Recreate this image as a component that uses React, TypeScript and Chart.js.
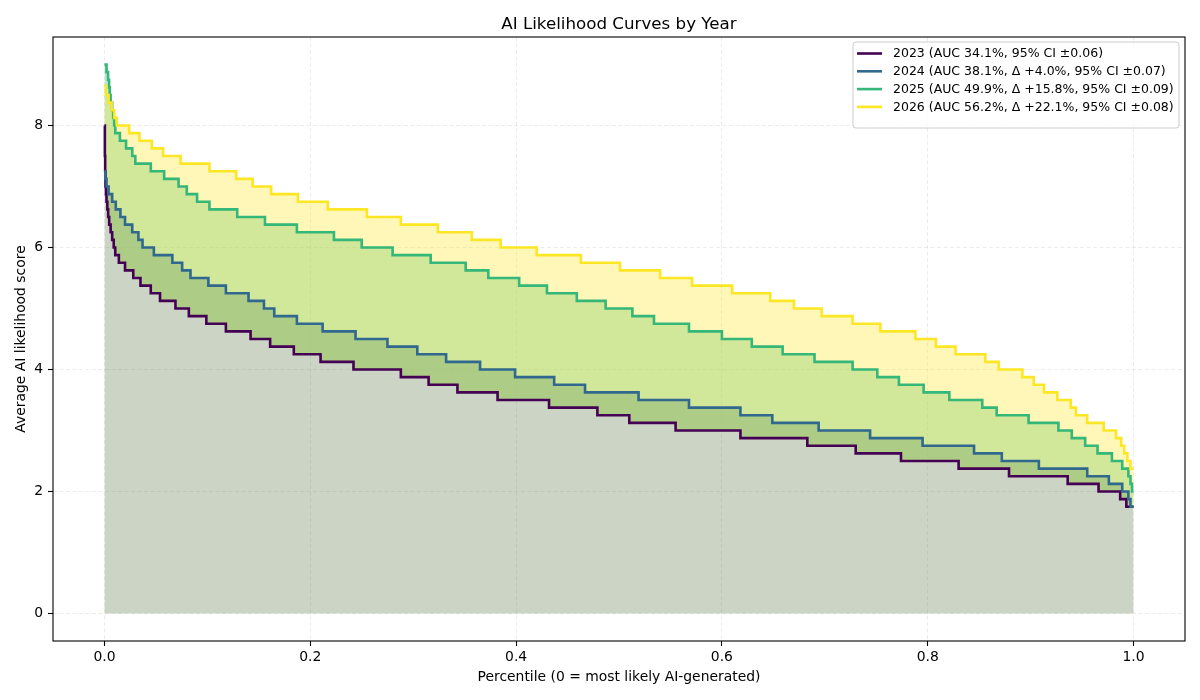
import React, { useEffect, useRef } from 'react';
import { Chart, registerables } from 'chart.js';

Chart.register(...registerables);

const FONT = "'DejaVu Sans', 'Liberation Sans', sans-serif";

const TITLE = 'AI Likelihood Curves by Year';
const X_LABEL = 'Percentile (0 = most likely AI-generated)';
const Y_LABEL = 'Average AI likelihood score';

const SERIES_LABELS = [
  '2023 (AUC 34.1%, 95% CI ±0.06)',
  '2024 (AUC 38.1%, Δ +4.0%, 95% CI ±0.07)',
  '2025 (AUC 49.9%, Δ +15.8%, 95% CI ±0.09)',
  '2026 (AUC 56.2%, Δ +22.1%, 95% CI ±0.08)',
];

const LINE_COLORS = ['#440154', '#31688e', '#35b779', '#fde725'];
const FILL_COLORS = [
  'rgba(85,112,65,0.3)',
  'rgba(49,104,142,0.38)',
  'rgba(53,183,121,0.33)',
  'rgba(253,231,37,0.33)',
];

const X_TICKS = [0, 0.2, 0.4, 0.6, 0.8, 1.0];
const Y_TICKS = [0, 2, 4, 6, 8];

// step start positions (percentile) and the value held from there on
const X_2023 = [0, 0.0004, 0.0007, 0.001, 0.0015, 0.002, 0.0028, 0.0036, 0.0046, 0.006, 0.0075, 0.009, 0.0105, 0.014, 0.02, 0.028, 0.035, 0.045, 0.054, 0.069, 0.082, 0.099, 0.118, 0.142, 0.161, 0.184, 0.21, 0.242, 0.288, 0.315, 0.343, 0.382, 0.432, 0.479, 0.51, 0.555, 0.618, 0.683, 0.73, 0.774, 0.83, 0.879, 0.936, 0.966, 0.987, 0.993, 1.0];
const Y_2023 = [8.0, 7.5, 7.25, 7.0, 6.875, 6.75, 6.625, 6.5, 6.375, 6.25, 6.125, 6.0, 5.875, 5.75, 5.625, 5.5, 5.375, 5.25, 5.125, 5.0, 4.875, 4.75, 4.625, 4.5, 4.375, 4.25, 4.125, 4.0, 3.875, 3.75, 3.625, 3.5, 3.375, 3.25, 3.125, 3.0, 2.875, 2.75, 2.625, 2.5, 2.375, 2.25, 2.125, 2.0, 1.875, 1.75, 1.75];

const X_2024 = [0, 0.0008, 0.002, 0.004, 0.0075, 0.011, 0.0155, 0.02, 0.027, 0.033, 0.037, 0.048, 0.066, 0.0755, 0.0836, 0.101, 0.118, 0.14, 0.155, 0.165, 0.187, 0.212, 0.244, 0.275, 0.304, 0.332, 0.365, 0.399, 0.437, 0.467, 0.519, 0.568, 0.618, 0.649, 0.694, 0.744, 0.795, 0.845, 0.872, 0.908, 0.955, 0.976, 0.989, 0.995, 0.997, 1.0];
const Y_2024 = [7.25, 7.125, 7.0, 6.875, 6.75, 6.625, 6.5, 6.375, 6.25, 6.125, 6.0, 5.875, 5.75, 5.625, 5.5, 5.375, 5.25, 5.125, 5.0, 4.875, 4.75, 4.625, 4.5, 4.375, 4.25, 4.125, 4.0, 3.875, 3.75, 3.625, 3.5, 3.375, 3.25, 3.125, 3.0, 2.875, 2.75, 2.625, 2.5, 2.375, 2.25, 2.125, 2.0, 1.875, 1.75, 1.75];

const X_2025 = [0, 0.002, 0.0035, 0.0045, 0.0052, 0.006, 0.0075, 0.0085, 0.0095, 0.0105, 0.015, 0.021, 0.027, 0.03, 0.045, 0.058, 0.072, 0.08, 0.09, 0.102, 0.129, 0.156, 0.187, 0.223, 0.25, 0.28, 0.317, 0.351, 0.373, 0.403, 0.43, 0.459, 0.487, 0.513, 0.534, 0.568, 0.6, 0.629, 0.659, 0.69, 0.727, 0.751, 0.772, 0.796, 0.821, 0.853, 0.867, 0.898, 0.927, 0.94, 0.953, 0.965, 0.979, 0.989, 0.995, 0.997, 0.9985, 1.0];
const Y_2025 = [9.0, 8.875, 8.75, 8.625, 8.5, 8.375, 8.25, 8.125, 8.0, 7.875, 7.75, 7.625, 7.5, 7.375, 7.25, 7.125, 7.0, 6.875, 6.75, 6.625, 6.5, 6.375, 6.25, 6.125, 6.0, 5.875, 5.75, 5.625, 5.5, 5.375, 5.25, 5.125, 5.0, 4.875, 4.75, 4.625, 4.5, 4.375, 4.25, 4.125, 4.0, 3.875, 3.75, 3.625, 3.5, 3.375, 3.25, 3.125, 3.0, 2.875, 2.75, 2.625, 2.5, 2.375, 2.25, 2.125, 2.0, 2.0];

const X_2026 = [0, 0.0015, 0.004, 0.007, 0.0095, 0.012, 0.024, 0.034, 0.046, 0.057, 0.074, 0.102, 0.128, 0.144, 0.162, 0.188, 0.217, 0.255, 0.288, 0.324, 0.357, 0.385, 0.42, 0.463, 0.501, 0.54, 0.571, 0.61, 0.647, 0.67, 0.697, 0.727, 0.754, 0.788, 0.808, 0.827, 0.856, 0.869, 0.892, 0.903, 0.913, 0.926, 0.939, 0.944, 0.955, 0.971, 0.983, 0.988, 0.991, 0.994, 0.997, 1.0];
const Y_2026 = [8.65, 8.5, 8.375, 8.25, 8.125, 8.0, 7.875, 7.75, 7.625, 7.5, 7.375, 7.25, 7.125, 7.0, 6.875, 6.75, 6.625, 6.5, 6.375, 6.25, 6.125, 6.0, 5.875, 5.75, 5.625, 5.5, 5.375, 5.25, 5.125, 5.0, 4.875, 4.75, 4.625, 4.5, 4.375, 4.25, 4.125, 4.0, 3.875, 3.75, 3.625, 3.5, 3.375, 3.25, 3.125, 3.0, 2.875, 2.75, 2.625, 2.5, 2.375, 2.375];

const SERIES_X = [X_2023, X_2024, X_2025, X_2026];
const SERIES_Y = [Y_2023, Y_2024, Y_2025, Y_2026];

function toPoints(xs: number[], ys: number[]) {
  return xs.map((x, i) => ({ x, y: ys[i] }));
}

const decorPlugin = {
  id: 'mplDecor',
  afterDraw(chart: any) {
    const { ctx, chartArea: a } = chart;
    ctx.save();
    // axes frame
    ctx.strokeStyle = '#000';
    ctx.lineWidth = 1.1;
    ctx.setLineDash([]);
    ctx.strokeRect(a.left, a.top, a.right - a.left, a.bottom - a.top);

    ctx.fillStyle = '#000';
    // title
    ctx.font = `16.7px ${FONT}`;
    ctx.textAlign = 'center';
    ctx.textBaseline = 'alphabetic';
    ctx.fillText(TITLE, (a.left + a.right) / 2, a.top - 8.5);

    // axis labels
    ctx.font = `13.9px ${FONT}`;
    ctx.textBaseline = 'middle';
    ctx.fillText(X_LABEL, (a.left + a.right) / 2, 677);
    ctx.save();
    ctx.translate(21, (a.top + a.bottom) / 2);
    ctx.rotate(-Math.PI / 2);
    ctx.fillText(Y_LABEL, 0, 0);
    ctx.restore();

    // legend
    const bx = 853, by = 42, bw = 326, bh = 86, r = 3;
    ctx.beginPath();
    ctx.moveTo(bx + r, by);
    ctx.lineTo(bx + bw - r, by);
    ctx.quadraticCurveTo(bx + bw, by, bx + bw, by + r);
    ctx.lineTo(bx + bw, by + bh - r);
    ctx.quadraticCurveTo(bx + bw, by + bh, bx + bw - r, by + bh);
    ctx.lineTo(bx + r, by + bh);
    ctx.quadraticCurveTo(bx, by + bh, bx, by + bh - r);
    ctx.lineTo(bx, by + r);
    ctx.quadraticCurveTo(bx, by, bx + r, by);
    ctx.closePath();
    ctx.fillStyle = 'rgba(255,255,255,0.8)';
    ctx.fill();
    ctx.strokeStyle = '#cccccc';
    ctx.lineWidth = 1;
    ctx.stroke();

    ctx.font = `12.5px ${FONT}`;
    ctx.textAlign = 'left';
    ctx.textBaseline = 'middle';
    SERIES_LABELS.forEach((label, i) => {
      const y = 53.5 + i * 17.8;
      ctx.strokeStyle = LINE_COLORS[i];
      ctx.lineWidth = 2.6;
      ctx.beginPath();
      ctx.moveTo(857, y);
      ctx.lineTo(882, y);
      ctx.stroke();
      ctx.fillStyle = '#000';
      ctx.fillText(label, 893, y + 0.5);
    });
    ctx.restore();
  },
};

export default function App() {
  const canvasRef = useRef<HTMLCanvasElement | null>(null);

  useEffect(() => {
    const canvas = canvasRef.current;
    if (!canvas) return;

    // Datasets listed newest first, so Chart.js (which paints the last dataset first)
    // paints 2023 at the bottom and 2026 on top, as in the reference.
    const order = [3, 2, 1, 0];
    const baseIndex = order.indexOf(0);
    const datasets = order.map((s) => ({
      label: SERIES_LABELS[s],
      data: toPoints(SERIES_X[s], SERIES_Y[s]),
      borderColor: LINE_COLORS[s],
      backgroundColor: FILL_COLORS[s],
      borderWidth: 2.6,
      pointRadius: 0,
      pointHoverRadius: 0,
      stepped: true as const,
      tension: 0,
      fill: s === 0 ? 'origin' : { target: baseIndex },
    }));

    const gridCommon = {
      color: 'rgba(176,176,176,0.3)',
      lineWidth: 0.8,
      tickLength: 5,
      tickColor: '#000',
      tickWidth: 1.1,
      drawTicks: true,
      drawOnChartArea: true,
    };

    const chart = new Chart(canvas, {
      type: 'line',
      data: { datasets: datasets as any },
      options: {
        responsive: false,
        animation: false,
        devicePixelRatio: 1,
        layout: { padding: { top: 37, right: 15, left: 0, bottom: 0 } },
        plugins: {
          legend: { display: false },
          title: { display: false },
          tooltip: { enabled: false },
          filler: { drawTime: 'beforeDatasetsDraw' },
        } as any,
        scales: {
          x: {
            type: 'linear',
            min: -0.05,
            max: 1.05,
            afterBuildTicks: (scale: any) => {
              scale.ticks = X_TICKS.map((v) => ({ value: v }));
            },
            afterFit: (scale: any) => {
              scale.height = 59;
            },
            grid: gridCommon,
            border: { display: false, dash: [4, 2.5] },
            ticks: {
              color: '#000',
              font: { family: FONT, size: 13.9 },
              padding: 3,
              maxRotation: 0,
              autoSkip: false,
              callback: (v: any) => Number(v).toFixed(1),
            },
          },
          y: {
            type: 'linear',
            min: -0.45,
            max: 9.45,
            afterBuildTicks: (scale: any) => {
              scale.ticks = Y_TICKS.map((v) => ({ value: v }));
            },
            afterFit: (scale: any) => {
              scale.width = 53;
            },
            grid: gridCommon,
            border: { display: false, dash: [4, 2.5] },
            ticks: {
              color: '#000',
              font: { family: FONT, size: 13.9 },
              padding: 5,
              autoSkip: false,
              callback: (v: any) => String(v),
            },
          },
        },
      } as any,
      plugins: [decorPlugin],
    });

    return () => {
      chart.destroy();
    };
  }, []);

  return (
    <div style={{ position: 'fixed', left: 0, top: 0, width: 1200, height: 700, background: '#fff' }}>
      <canvas ref={canvasRef} width={1200} height={700} style={{ display: 'block', width: 1200, height: 700 }} />
    </div>
  );
}
